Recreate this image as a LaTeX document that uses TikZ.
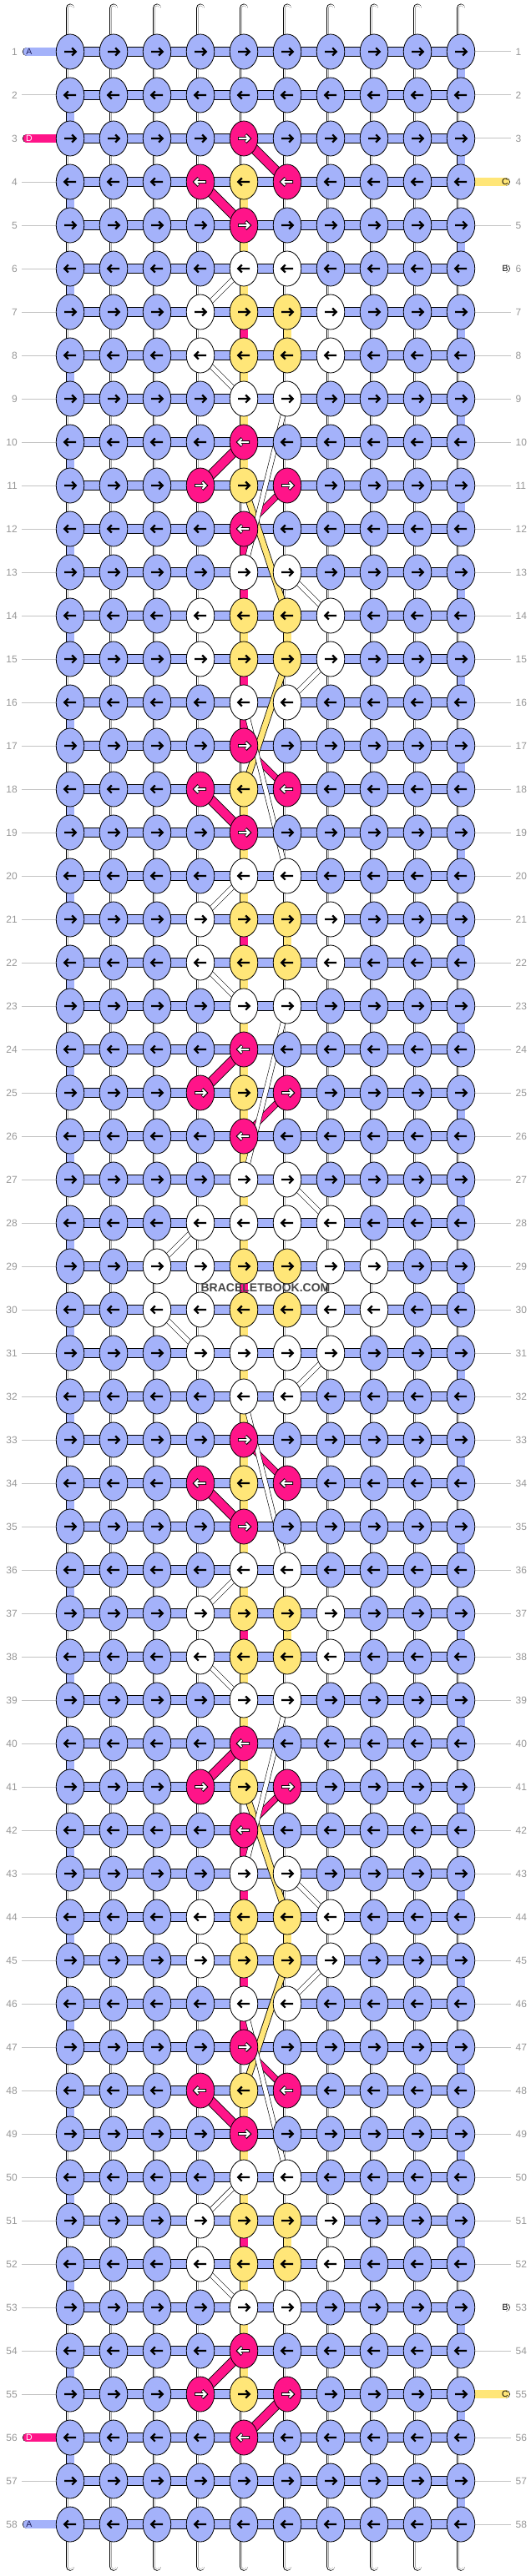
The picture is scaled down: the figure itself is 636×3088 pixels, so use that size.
\documentclass[tikz,border=0pt]{standalone}
\usepackage{fontspec}
\setmainfont{Liberation Sans}
\usetikzlibrary{shapes.geometric,calc}
\definecolor{kB}{RGB}{164,178,250}
\definecolor{kP}{RGB}{255,20,137}
\definecolor{kY}{RGB}{255,230,120}
\definecolor{kW}{RGB}{255,255,255}
\definecolor{lblgray}{RGB}{150,150,150}
\definecolor{linegray}{RGB}{195,195,195}
\definecolor{tubegray}{RGB}{170,170,170}
\definecolor{navy}{RGB}{30,30,90}
\definecolor{wmark}{RGB}{70,70,70}
\pgfdeclarelayer{lzero}\pgfdeclarelayer{lone}\pgfdeclarelayer{ltwo}\pgfdeclarelayer{lthree}\pgfdeclarelayer{lfg}
\pgfsetlayers{lzero,lone,ltwo,lthree,main,lfg}
\def\RA{B,B,B,B,B,B,B,B,B,B}
\def\RP{B,B,B,B,P,B,B,B,B,B}
\def\RQ{B,B,B,P,Y,P,B,B,B,B}
\def\RW{B,B,B,B,W,W,B,B,B,B}
\def\RY{B,B,B,W,Y,Y,W,B,B,B}
\def\RX{B,B,B,W,W,W,W,B,B,B}
\def\RZ{B,B,W,W,Y,Y,W,W,B,B}
\newcommand\mytube[3][]{%
  \draw[#1,line width=10.6pt,black] (#2) -- (#3);
  \draw[#1,line width=9pt,white] (#2) -- (#3);
  \draw[#1,line width=6.4pt,tubegray] (#2) -- (#3);
  \draw[#1,line width=5pt,white] (#2) -- (#3);}
\newcommand\mycseg[3]{%
  \draw[line width=10.6pt,black] (#1) -- (#2);
  \draw[line width=9pt,#3] (#1) -- (#2);}
\begin{document}
\begin{tikzpicture}[x=1pt,y=-1pt,
  knot/.style={ellipse,draw=black,line width=0.8pt,minimum width=33.5pt,minimum height=42pt,inner sep=0pt},
  rowlbl/.style={text=lblgray,font=\fontsize{12}{12}\selectfont,inner sep=0pt},
  taglbl/.style={font=\fontsize{10.5}{10.5}\selectfont,inner sep=0pt},
  glyph/.style={line width=2.2pt,line cap=butt,line join=miter},
  dpk/.style={draw=black,line width=0.9pt,double=kP,double distance=10pt},
  dpkt/.style={draw=black,line width=0.8pt,double=kP,double distance=6.5pt},
  dyl/.style={draw=black,line width=0.8pt,double=kY,double distance=6.5pt},
  dwt/.style={draw=black,line width=0.6pt,double=white,double distance=5pt},
]
\useasboundingbox (0,0) rectangle (636,3088);
% ---------- knots with arrows ----------
\foreach \r/\rd in {1/\RA,2/\RA,3/\RP,4/\RQ,5/\RP,6/\RW,7/\RY,8/\RY,9/\RW,10/\RP,11/\RQ,12/\RP,13/\RW,14/\RY,15/\RY,16/\RW,17/\RP,18/\RQ,19/\RP,20/\RW,21/\RY,22/\RY,23/\RW,24/\RP,25/\RQ,26/\RP,27/\RW,28/\RX,29/\RZ,30/\RZ,31/\RX,32/\RW,33/\RP,34/\RQ,35/\RP,36/\RW,37/\RY,38/\RY,39/\RW,40/\RP,41/\RQ,42/\RP,43/\RW,44/\RY,45/\RY,46/\RW,47/\RP,48/\RQ,49/\RP,50/\RW,51/\RY,52/\RY,53/\RW,54/\RP,55/\RQ,56/\RP,57/\RA,58/\RA} {
  \edef\rowlist{\rd}
  \ifodd\r\relax \def\dir{1}\else\def\dir{-1}\fi
  \foreach \k [count=\c] in \rowlist {
    \node[knot,fill=k\k] (k-\r-\c) at ({84+52*(\c-1)},{62+52*(\r-1)}) {};
    \begin{scope}[shift={(k-\r-\c.center)},xscale=\dir]
      \if P\k
        \draw[glyph,line width=3.8pt,black] (-7,0) -- (6,0) (2.2,-4.6) -- (6.8,0) -- (2.2,4.6);
        \draw[glyph,line width=2pt,white] (-6.2,0) -- (6,0) (2.4,-4) -- (6.4,0) -- (2.4,4);
      \else
        \draw[glyph,black] (-7,0) -- (6,0) (2.2,-4.6) -- (6.8,0) -- (2.2,4.6);
      \fi
    \end{scope}
  }
}
% ---------- strands at top and bottom, label lines ----------
\begin{pgfonlayer}{lzero}
\foreach \c in {1,...,10} {
  \coordinate (st\c) at ({84+52*(\c-1)},9.8);
  \coordinate (sb\c) at ({84+52*(\c-1)},3076.5);
  \mytube[line cap=round]{st\c}{k-1-\c.center}
  \mytube[line cap=round]{sb\c}{k-58-\c.center}
}
\foreach \r in {2,4,5,...,55,57} {
  \coordinate (gl\r) at (26,{62+52*(\r-1)});
  \draw[linegray,line width=1pt] (gl\r) -- (k-\r-1.center);
}
\foreach \r in {1,2,3,5,7,8,...,52,54,56,57,58} {
  \coordinate (gr\r) at (611.5,{62+52*(\r-1)});
  \draw[linegray,line width=1pt] (k-\r-10.center) -- (gr\r);
}
\end{pgfonlayer}
% ---------- vertical segments ----------
\begin{pgfonlayer}{lone}
\foreach \r in {1,...,57} {
  \pgfmathtruncatemacro\rn{\r+1}
  \foreach \c in {1,...,10} {
    \mytube{k-\r-\c.center}{k-\rn-\c.center}
  }
  \ifodd\r\relax
    \mycseg{k-\r-10.center}{k-\rn-10.center}{kB}
  \else
    \mycseg{k-\r-1.center}{k-\rn-1.center}{kB}
  \fi
}
\foreach \s/\col in {4/Y,5/Y,6/Y,7/P,8/Y,9/Y,10/Y,12/P,13/P,14/Y,15/P,16/P,18/Y,19/Y,20/Y,21/P,22/Y,23/Y,24/Y,25/Y,26/Y,27/Y,28/Y,29/P,30/Y,31/Y,32/Y,33/Y,34/Y,35/Y,36/Y,37/P,38/Y,39/Y,40/Y,42/P,43/P,44/Y,45/P,46/P,48/Y,49/Y,50/Y,51/P,52/Y,53/Y,54/Y} {
  \pgfmathtruncatemacro\sn{\s+1}
  \mycseg{k-\s-5.center}{k-\sn-5.center}{k\col}
}
\foreach \s in {7,14,21,37,44,51} {
  \pgfmathtruncatemacro\sn{\s+1}
  \mycseg{k-\s-6.center}{k-\sn-6.center}{kY}
}
\end{pgfonlayer}
% ---------- horizontal bars and tags ----------
\begin{pgfonlayer}{ltwo}
\foreach \r/\tc/\tl/\lc in {1/kB/A/navy,3/kP/D/white,56/kP/D/white,58/kB/A/navy} {
  \coordinate (tl\r) at (32.2,{62+52*(\r-1)});
  \draw[line cap=round,line width=10.8pt,black] (tl\r) -- (k-\r-1.center);
  \draw[line cap=round,line width=9.2pt,\tc] (tl\r) -- (k-\r-1.center);
  \node[taglbl,text=\lc] (tagl\r) at (35,{62+52*(\r-1)}) {\tl};
}
\foreach \r/\tc/\tl/\lc in {4/kY/C/black,6/kW/B/black,53/kW/B/black,55/kY/C/black} {
  \coordinate (tr\r) at (605.6,{62+52*(\r-1)});
  \draw[line cap=round,line width=10.8pt,black] (k-\r-10.center) -- (tr\r);
  \draw[line cap=round,line width=9.2pt,\tc] (k-\r-10.center) -- (tr\r);
  \node[taglbl,text=\lc] (tagr\r) at (605,{62+52*(\r-1)}) {\tl};
}
\foreach \r in {1,...,58} {
  \draw[line width=11.8pt,black] (k-\r-1.center) -- (k-\r-10.center);
  \draw[line width=10.2pt,kB] (k-\r-1.center) -- (k-\r-10.center);
}
\end{pgfonlayer}
% ---------- diagonal threads ----------
\begin{pgfonlayer}{lthree}
\foreach \ra/\ca/\rb/\cb/\sty in {
  3/5/4/6/dpk, 4/4/5/5/dpk, 10/5/11/4/dpk, 18/4/19/5/dpk, 24/5/25/4/dpk,
  11/6/12/5/dpkt, 17/5/18/6/dpkt, 25/6/26/5/dpkt,
  11/5/14/6/dyl, 15/6/18/5/dyl,
  6/5/7/4/dwt, 8/4/9/5/dwt, 9/6/13/5/dwt, 13/6/14/7/dwt, 15/7/16/6/dwt,
  16/5/20/6/dwt, 20/5/21/4/dwt, 22/4/23/5/dwt, 23/6/27/5/dwt, 27/6/28/7/dwt,
  28/4/29/3/dwt} {
  \pgfmathtruncatemacro\ma{59-\ra}
  \pgfmathtruncatemacro\mb{59-\rb}
  \draw[\sty] (k-\ra-\ca.center) -- (k-\rb-\cb.center);
  \draw[\sty] (k-\ma-\ca.center) -- (k-\mb-\cb.center);
}
\end{pgfonlayer}
% ---------- row labels and watermark ----------
\begin{pgfonlayer}{lfg}
\foreach \r in {1,...,58} {
  \node[rowlbl,anchor=east] (ll\r) at (21,{62+52*(\r-1)}) {\r};
  \node[rowlbl,anchor=west] (lr\r) at (617.5,{62+52*(\r-1)}) {\r};
}
\node[font=\fontsize{14}{14}\selectfont\bfseries,text=wmark,inner sep=0pt] (wm) at (318,1544) {BRACELETBOOK.COM};
\end{pgfonlayer}
\end{tikzpicture}
\end{document}
